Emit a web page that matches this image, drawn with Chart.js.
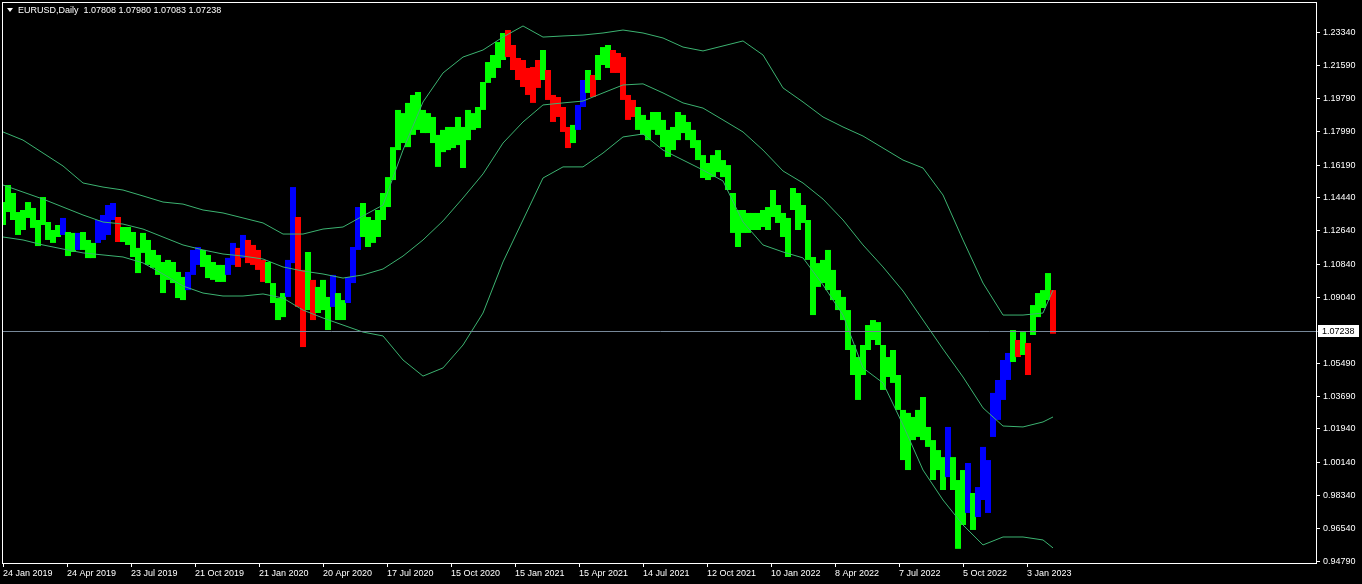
<!DOCTYPE html>
<html>
<head>
<meta charset="utf-8">
<script src="https://cdn.jsdelivr.net/npm/chart.js@4.4.0/dist/chart.umd.min.js"></script>
<style>
html,body{margin:0;padding:0;background:#000;}
#wrap{position:relative;width:1362px;height:584px;overflow:hidden;}
#title{position:absolute;left:7px;top:5px;color:#fff;font:9px "Liberation Sans",Arial,sans-serif;white-space:pre;line-height:11px;}
#title .tri{display:inline-block;width:0;height:0;border-left:3px solid transparent;border-right:3px solid transparent;border-top:4px solid #fff;margin-right:5px;vertical-align:1px;}
</style>
</head>
<body>
<div id="wrap"><canvas id="chart" width="1362" height="584"></canvas><div id="title"></div></div>
<script>
const symbol = "EURUSD,Daily";
const ohlc = [1.07808, 1.07980, 1.07083, 1.07238];

const dateTicks = ["24 Jan 2019","24 Apr 2019","23 Jul 2019","21 Oct 2019","21 Jan 2020","20 Apr 2020","17 Jul 2020",
  "15 Oct 2020","15 Jan 2021","15 Apr 2021","14 Jul 2021","12 Oct 2021","10 Jan 2022","8 Apr 2022","7 Jul 2022",
  "5 Oct 2022","3 Jan 2023"];
const priceTicks = [1.23340,1.21590,1.19790,1.17990,1.16190,1.14440,1.12640,1.10840,1.09040,
  1.05490,1.03690,1.01940,1.00140,0.98340,0.96540,0.94790];

const colDays = 5;   // daily bars folded into one drawn column
const tickDays = 64; // days between two date labels
const bandStep = 4;  // bands read every 4 columns

// high / low of each column
const highs = [1.1420,1.1512,1.1469,1.1366,1.1377,1.1420,1.1388,1.1323,1.1447,1.1312,
 1.1269,1.1296,1.1334,1.1258,1.1253,1.1253,1.1258,1.1215,1.1199,1.1323,
 1.1350,1.1404,1.1415,1.1339,1.1285,1.1285,1.1258,1.1172,1.1253,1.1215,
 1.1161,1.1134,1.1096,1.1107,1.1096,1.1042,1.1015,1.1042,1.1161,1.1177,
 1.1161,1.1134,1.1096,1.1080,1.1080,1.1118,1.1199,1.1172,1.1242,1.1215,
 1.1188,1.1161,1.1107,1.1096,1.0982,1.0901,1.0928,1.1107,1.1501,1.1339,
 1.1053,1.1150,1.0999,1.0961,1.0999,1.0907,1.1026,1.0928,1.0890,1.1015,
 1.1177,1.1393,1.1415,1.1339,1.1323,1.1377,1.1469,1.1555,1.1717,1.1918,
 1.1901,1.1956,1.1999,1.2015,1.1918,1.1901,1.1880,1.1783,1.1810,1.1826,
 1.1826,1.1880,1.1826,1.1918,1.1901,1.1934,1.2069,1.2177,1.2215,1.2285,
 1.2334,1.2350,1.2269,1.2199,1.2188,1.2145,1.2150,1.2188,1.2242,1.2134,
 1.1999,1.1988,1.1934,1.1826,1.1837,1.1945,1.2080,1.2134,1.2107,1.2215,
 1.2258,1.2269,1.2242,1.2226,1.2204,1.1999,1.1972,1.1934,1.1891,1.1864,
 1.1907,1.1907,1.1864,1.1810,1.1826,1.1907,1.1891,1.1853,1.1810,1.1755,
 1.1674,1.1631,1.1674,1.1701,1.1647,1.1620,1.1469,1.1377,1.1377,1.1361,
 1.1361,1.1361,1.1377,1.1393,1.1485,1.1404,1.1361,1.1334,1.1496,1.1469,
 1.1404,1.1323,1.1123,1.1090,1.1107,1.1161,1.1053,1.0944,1.0907,1.0836,
 1.0647,1.0582,1.0647,1.0755,1.0782,1.0771,1.0647,1.0582,1.0620,1.0485,
 1.0296,1.0280,1.0258,1.0296,1.0366,1.0204,1.0133,1.0079,1.0041,1.0204,
 1.0041,0.9917,0.9971,1.0009,0.9847,0.9879,1.0096,1.0025,1.0388,1.0458,
 1.0566,1.0604,1.0728,1.0674,1.0717,1.0658,1.0863,1.0928,1.0944,1.1036,
 1.0944];
const lows = [1.1296,1.1366,1.1323,1.1242,1.1269,1.1334,1.1280,1.1182,1.1296,1.1215,
 1.1199,1.1231,1.1242,1.1128,1.1150,1.1161,1.1161,1.1117,1.1117,1.1199,
 1.1215,1.1242,1.1323,1.1204,1.1204,1.1188,1.1123,1.1036,1.1145,1.1080,
 1.1064,1.1026,1.0928,1.0999,1.0982,1.0901,1.0890,1.0944,1.1026,1.1080,
 1.1069,1.1009,1.0999,1.0988,1.0988,1.1026,1.1080,1.1069,1.1118,1.1090,
 1.1080,1.1053,1.0988,1.0982,1.0874,1.0782,1.0798,1.0907,1.1090,1.0853,
 1.0636,1.0836,1.0782,1.0820,1.0836,1.0728,1.0853,1.0782,1.0782,1.0874,
 1.0982,1.1161,1.1231,1.1177,1.1199,1.1231,1.1323,1.1393,1.1539,1.1701,
 1.1739,1.1717,1.1783,1.1810,1.1793,1.1793,1.1739,1.1610,1.1690,1.1701,
 1.1712,1.1728,1.1604,1.1755,1.1810,1.1820,1.1918,1.2064,1.2091,1.2145,
 1.2188,1.2204,1.2134,1.2080,1.2042,1.1999,1.1956,1.2037,1.2080,1.1972,
 1.1853,1.1880,1.1799,1.1712,1.1739,1.1810,1.1934,1.2010,1.1988,1.2080,
 1.2161,1.2145,1.2118,1.2118,1.1972,1.1864,1.1880,1.1810,1.1783,1.1755,
 1.1810,1.1783,1.1717,1.1664,1.1701,1.1755,1.1793,1.1755,1.1712,1.1647,
 1.1550,1.1539,1.1555,1.1582,1.1555,1.1485,1.1253,1.1177,1.1253,1.1253,
 1.1269,1.1269,1.1285,1.1269,1.1339,1.1307,1.1231,1.1123,1.1377,1.1269,
 1.1307,1.1107,1.0809,1.0961,1.0982,1.0944,1.0890,1.0836,1.0782,1.0620,
 1.0485,1.0350,1.0485,1.0620,1.0674,1.0647,1.0404,1.0474,1.0442,1.0296,
 1.0025,0.9971,1.0133,1.0150,1.0133,1.0096,0.9917,0.9971,0.9863,0.9933,
 0.9863,0.9545,0.9674,0.9739,0.9647,0.9717,0.9809,0.9739,1.0150,1.0242,
 1.0350,1.0458,1.0555,1.0582,1.0593,1.0485,1.0701,1.0798,1.0847,1.0890,
 1.0708];
// g = up trend, r = down, b = flat/neutral colouring of the indicator
const barKind = ("gggggggggg"+"ggbggbgggb"+"bbbrgggggg"+"gggggggbbb"+"gggggbbrbr"+
  "rrrggggbbr"+"rgrgggbggb"+"bbgggggggg"+"gggggggggg"+"gggggggggg"+
  "grrrrrrrgr"+"rrrrgbbgrg"+"ggrrrrrggg"+"gggggggggg"+"gggggggggg"+
  "gggggggggg"+"gggggggggg"+"gggggggggg"+"gggggggggb"+"gggbgbbbbb"+
  "bbgrgrgggg"+"r").split("");

const upperBand = [1.1799,1.1755,1.1685,1.1615,1.1523,1.1501,1.1485,1.1453,1.1420,1.1409,
 1.1377,1.1361,1.1334,1.1307,1.1247,1.1247,1.1274,1.1285,1.1345,1.1404,
 1.1701,1.1961,1.2118,1.2204,1.2242,1.2312,1.2372,1.2312,1.2318,1.2323,
 1.2334,1.2350,1.2334,1.2307,1.2258,1.2237,1.2264,1.2291,1.2215,1.2037,
 1.1961,1.1880,1.1826,1.1777,1.1712,1.1647,1.1604,1.1458,1.1215,1.0982,
 1.0809,1.0809,1.0820,1.0944];
const midBand = [1.1512,1.1474,1.1436,1.1393,1.1350,1.1312,1.1301,1.1274,1.1231,1.1188,
 1.1161,1.1139,1.1128,1.1112,1.1069,1.1047,1.1031,1.1009,1.1026,1.1058,
 1.1128,1.1215,1.1318,1.1442,1.1572,1.1739,1.1853,1.1945,1.1956,1.1966,
 1.2010,1.2053,1.2059,1.2010,1.1956,1.1928,1.1864,1.1799,1.1701,1.1588,
 1.1523,1.1436,1.1323,1.1188,1.1069,1.0939,1.0782,1.0625,1.0474,1.0307,
 1.0209,1.0204,1.0231,1.0258];
const lowerBand = [1.1231,1.1215,1.1188,1.1166,1.1145,1.1134,1.1123,1.1091,1.1031,1.0966,
 1.0928,1.0912,1.0912,1.0923,1.0901,1.0836,1.0793,1.0755,1.0717,1.0696,
 1.0566,1.0479,1.0523,1.0647,1.0820,1.1096,1.1323,1.1550,1.1610,1.1610,
 1.1685,1.1772,1.1788,1.1701,1.1647,1.1593,1.1534,1.1312,1.1188,1.1150,
 1.1118,1.0972,1.0809,1.0523,1.0442,1.0215,0.9971,0.9809,0.9674,0.9566,
 0.9609,0.9609,0.9593,0.9550];

const colors = { g: "#00ff00", r: "#ff0000", b: "#0000ff" };
const bandColor = "#3cb371";
const xMax = 1313, yMin = 0.94684, yMax = 1.24962;

document.getElementById("title").innerHTML =
  `<span class="tri"></span>${symbol}  ${ohlc.map(v => v.toFixed(5)).join(" ")}`;

function bandSet(vals) {
  let last = highs.length - 1;
  return {
    type: "line", order: 0, borderColor: bandColor, borderWidth: 1, pointRadius: 0, tension: 0,
    data: vals.map((v, i) => ({ x: Math.min(i * bandStep, last) * colDays, y: v }))
  };
}

// axes must not push the plot area away from the frame
function noPad(s) { s.paddingTop = 0; s.paddingBottom = 0; s.paddingLeft = 0; s.paddingRight = 0; }

const framePlugin = {
  id: "frame",
  afterDatasetsDraw(chart) {
    const { ctx, chartArea: a, scales: { y } } = chart;
    const py = Math.round(y.getPixelForValue(ohlc[3])) + 0.5;
    ctx.save();
    ctx.lineWidth = 1;
    ctx.strokeStyle = "#778899";
    ctx.beginPath(); ctx.moveTo(a.left, py); ctx.lineTo(a.right + 2, py); ctx.stroke();
    ctx.strokeStyle = "#ffffff";
    ctx.strokeRect(a.left - 0.5, a.top - 0.5, a.right - a.left + 1, a.bottom - a.top + 1);
    ctx.fillStyle = "#ffffff";
    ctx.fillRect(a.right + 2, py - 6.5, 41, 12);
    ctx.fillStyle = "#000000";
    ctx.font = '9px "Liberation Sans"';
    ctx.textBaseline = "middle";
    ctx.fillText(ohlc[3].toFixed(5), a.right + 6, py);
    ctx.restore();
  }
};

Chart.defaults.font.family = '"Liberation Sans", Arial, sans-serif';
Chart.defaults.font.size = 9;

new Chart(document.getElementById("chart"), {
  type: "bar",
  data: {
    datasets: [
      bandSet(upperBand), bandSet(midBand), bandSet(lowerBand),
      {
        type: "bar", order: 1, borderWidth: 0, barPercentage: 1.2, categoryPercentage: 1,
        data: highs.map((h, k) => ({ x: k * colDays, y: [lows[k], h] })),
        backgroundColor: barKind.map(c => colors[c])
      }
    ]
  },
  options: {
    responsive: false, animation: false, devicePixelRatio: 1,
    layout: { padding: { left: 3, top: 3, right: 0, bottom: 0 } },
    plugins: { legend: { display: false }, tooltip: { enabled: false } },
    scales: {
      x: {
        type: "linear", min: 0, max: xMax, offset: false,
        afterBuildTicks: s => { s.ticks = dateTicks.map((_, i) => ({ value: i * tickDays })); },
        afterFit: s => { s.height = 21; noPad(s); },
        ticks: { color: "#ffffff", align: "start", maxRotation: 0, autoSkip: false, padding: 1,
                 callback: (v, i) => dateTicks[i] },
        grid: { drawOnChartArea: false, color: "#ffffff", tickLength: 4, offset: false },
        border: { display: false }
      },
      y: {
        position: "right", min: yMin, max: yMax, beginAtZero: false,
        afterBuildTicks: s => { s.ticks = priceTicks.map(v => ({ value: v })); },
        afterFit: s => { s.width = 46; noPad(s); },
        ticks: { color: "#ffffff", padding: 3, autoSkip: false, callback: v => v.toFixed(5) },
        grid: { drawOnChartArea: false, color: "#ffffff", tickLength: 4 },
        border: { display: false }
      }
    }
  },
  plugins: [framePlugin]
});
</script>
</body>
</html>
